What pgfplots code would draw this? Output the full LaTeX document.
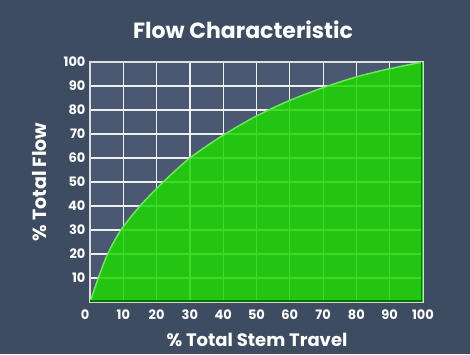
\documentclass[border=0pt]{standalone}
\usepackage{fontspec}
\setmainfont{Poppins}
\usepackage{pgfplots}
\pgfplotsset{compat=1.18}
\definecolor{bg}{HTML}{3E4C61}
\definecolor{plotbg}{HTML}{4A5871}
\definecolor{grn}{RGB}{29,216,2}
\definecolor{edge}{RGB}{110,230,90}
\begin{document}
\begin{tikzpicture}[x=1pt,y=1pt]
\fill[bg] (0,0) rectangle (470,354);
\begin{axis}[
  at={(90pt,52pt)}, anchor=south west,
  scale only axis, width=333pt, height=240pt,
  xmin=0, xmax=100, ymin=0, ymax=100,
  xtick={0,10,...,100}, ytick={10,20,...,100},
  xticklabels={\hspace*{-10pt}0,10,20,30,40,50,60,70,80,90,100},
  grid=major,
  grid style={white!88!gray, line width=1.2pt},
  axis line style={white!75!gray, line width=1.3pt},
  axis background/.style={fill=plotbg},
  tick style={draw=none},
  ticklabel style={font=\bfseries\fontsize{13}{13}\selectfont, text=white},
  /pgf/number format/assume math mode=true,
  xticklabel style={yshift=-4pt},
  yticklabel style={xshift=-1pt},
]
\addplot[draw=none, fill=grn, fill opacity=0.85, smooth] coordinates {
(0,0) (1,4) (2.5,10) (5.3,20) (9.3,30) (15,40) (22,50) (30,60) (40,69.5) (50,77.5) (60,84) (70,89.3) (80,93.8) (90,97.2) (100,100)} \closedcycle;
\addplot[draw=edge, line width=1.5pt, smooth] coordinates {
(0,0) (1,4) (2.5,10) (5.3,20) (9.3,30) (15,40) (22,50) (30,60) (40,69.5) (50,77.5) (60,84) (70,89.3) (80,93.8) (90,97.2) (100,100)};
\addplot[draw=green!45!black, line width=1.2pt] coordinates {(0,0.4) (99.6,0.4) (99.6,99.8)};
\end{axis}
\node[text=white, font=\bfseries\fontsize{22}{22}\selectfont] at (243,324) {Flow Characteristic};
\node[text=white, font=\bfseries\fontsize{18}{18}\selectfont] at (257,14) {\% Total Stem Travel};
\node[text=white, font=\bfseries\fontsize{19}{19}\selectfont, rotate=90] at (40,172) {\% Total Flow};
\end{tikzpicture}
\end{document}
